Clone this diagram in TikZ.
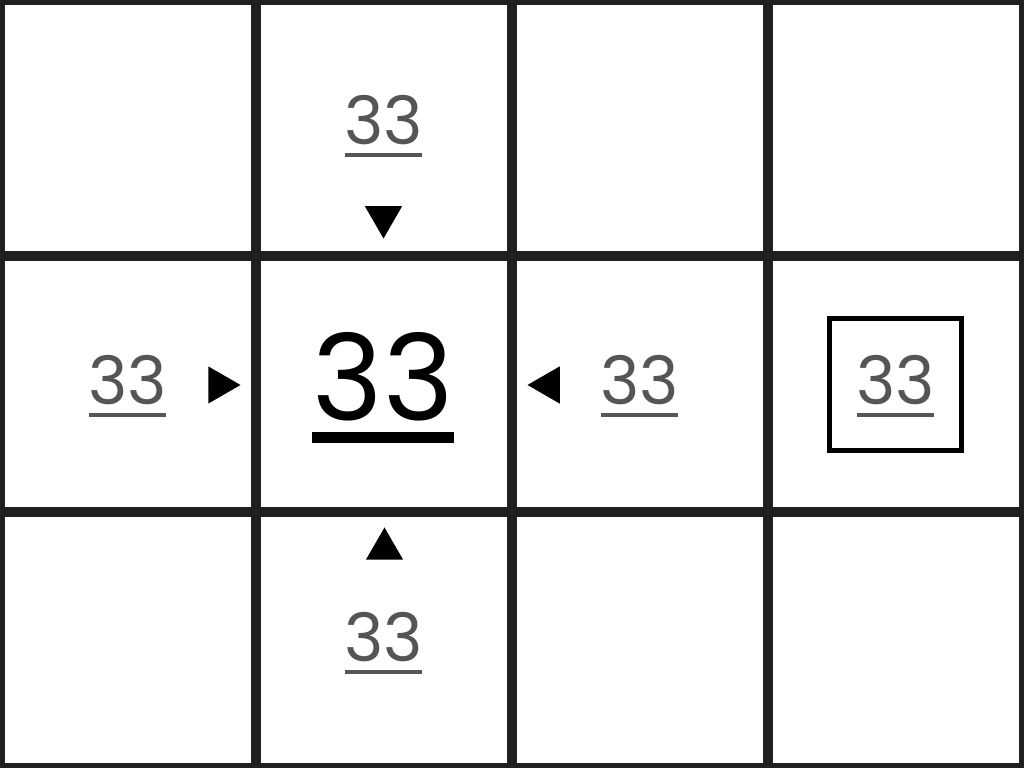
\documentclass[tikz,border=0pt]{standalone}
\usepackage{fontspec}
\setmainfont{Poppins}
\usetikzlibrary{shapes.geometric}
\definecolor{gridgray}{HTML}{202020}
\definecolor{labelgray}{HTML}{555555}
\tikzset{
  small/.style={text=labelgray, inner sep=0pt, anchor=base, font=\fontsize{19}{20}\selectfont},
  big/.style={text=black, inner sep=0pt, anchor=base, font=\fontsize{34}{38}\selectfont},
  tri/.style={regular polygon, regular polygon sides=3, fill=black, inner sep=0pt, minimum size=0.43cm},
  uline/.style={labelgray, line width=0.04cm, shorten <=0.02cm, shorten >=0.02cm}
}

\begin{document}
\begin{tikzpicture}
  \useasboundingbox (0,0) rectangle (10.24,7.68);
  \draw[gridgray, line width=0.1cm, step=2.56] (0,0) grid (10.24,7.68);
  % labels round the centre cell
  \node[small] (top) at (3.835, 6.23) {33};
  \node[small] (bottom) at (3.835, 1.06) {33};
  \node[small] (left) at (1.275, 3.63) {33};
  \node[small] (right) at (6.395, 3.63) {33};
  \node[small] (boxed) at (8.955, 3.63) {33};
  \node[big] (centre) at (3.83, 3.47) {33};
  \foreach \n in {top,bottom,left,right,boxed}
    \draw[uline] ([yshift=-0.1cm]\n.base west) -- ([yshift=-0.1cm]\n.base east);
  \draw[line width=0.11cm] ([yshift=-0.165cm]centre.base west) -- ([yshift=-0.165cm]centre.base east);
  % markers
  \node[tri, rotate=180] (down) at (3.835, 5.51) {};
  \node[tri] (up) at (3.845, 2.19) {};
  \node[tri, rotate=-90] (east) at (2.19, 3.83) {};
  \node[tri, rotate=90] (west) at (5.49, 3.83) {};
  \node[draw, line width=0.05cm, minimum size=1.32cm, inner sep=0pt] (frame) at (8.955, 3.835) {};
\end{tikzpicture}
\end{document}
